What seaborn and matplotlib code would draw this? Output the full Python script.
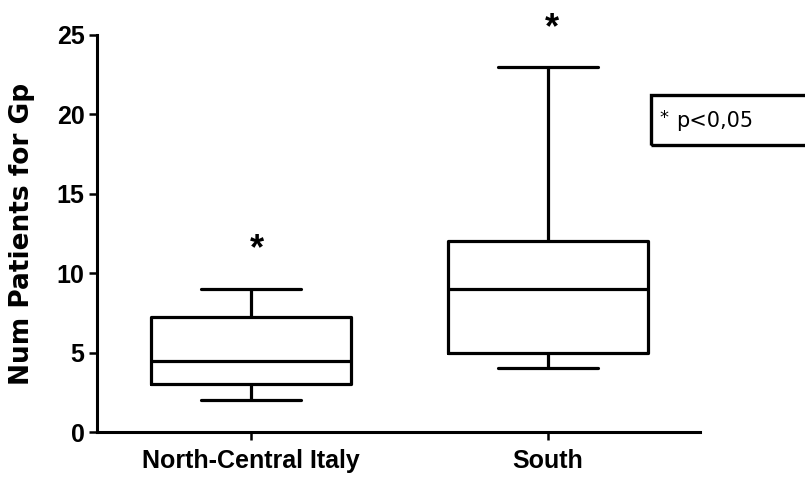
import matplotlib
matplotlib.use("Agg")
import matplotlib.pyplot as plt
from matplotlib.patches import Rectangle
import seaborn as sns
import pandas as pd

categories = ["North-Central Italy", "South"]
# five-number summaries: min, Q1, median, Q3, max
north_central = [2, 3, 4.5, 7.25, 9]
south = [4, 5, 9, 12, 23]
star_y = [10.9, 24.8]
yticks = [0, 5, 10, 15, 20, 25]

df = pd.DataFrame({
    "group": [categories[0]] * len(north_central) + [categories[1]] * len(south),
    "value": north_central + south,
})

sns.set_style("white")
plt.rcParams["font.family"] = ["Liberation Sans", "DejaVu Sans"]
plt.rcParams["text.color"] = "black"
plt.rcParams["axes.labelcolor"] = "black"
plt.rcParams["xtick.color"] = "black"
plt.rcParams["ytick.color"] = "black"

W, H = 805, 478
fig = plt.figure(figsize=(W / 100, H / 100), dpi=100)
ax = fig.add_axes([97 / W, (H - 432) / H, (700 - 97) / W, (432 - 35) / H])

lw = 2.3
sns.boxplot(data=df, x="group", y="value", order=categories, whis=(0, 100),
            width=0.673, color="black", linewidth=lw, linecolor="black",
            fill=False, ax=ax)

ax.set_xlim(-0.519, 1.512)
ax.set_ylim(0, 25)
ax.set_yticks(yticks)
ax.set_xlabel("")
ax.set_ylabel("Num Patients for Gp", fontsize=19, fontweight="bold",
              family=["DejaVu Sans"], color="black")
ax.yaxis.set_label_coords(-0.102, 0.5)
for sp in ["top", "right"]:
    ax.spines[sp].set_visible(False)
for sp in ["left", "bottom"]:
    ax.spines[sp].set_linewidth(2.2)
    ax.spines[sp].set_color("black")
ax.tick_params(axis="both", direction="out", length=6, width=1.8, color="black",
               labelcolor="black", bottom=True, left=True)
ax.tick_params(axis="y", labelsize=18, pad=3)
ax.tick_params(axis="x", labelsize=18, pad=6)
for lab in ax.get_xticklabels() + ax.get_yticklabels():
    lab.set_fontweight("bold")

for i, (y, dx) in enumerate(zip(star_y, [0.02, 0.012])):
    ax.text(i + dx, y, "*", ha="center", va="baseline", fontsize=26,
            fontweight="bold", color="black", clip_on=False)

# significance key box (runs off the right edge like the original)
fig.patches.append(Rectangle((651 / W, 1 - 145 / H), 200 / W, 50 / H,
                             transform=fig.transFigure, fill=False,
                             ec="black", lw=2.4))
fig.text(659 / W, 1 - 118 / H, "*", ha="left", va="center", fontsize=13,
         family=["DejaVu Sans"], color="black")
fig.text(676 / W, 1 - 121 / H, "p<0,05", ha="left", va="center", fontsize=15,
         family=["DejaVu Sans"], color="black")

fig.savefig("out.png", dpi=100)
